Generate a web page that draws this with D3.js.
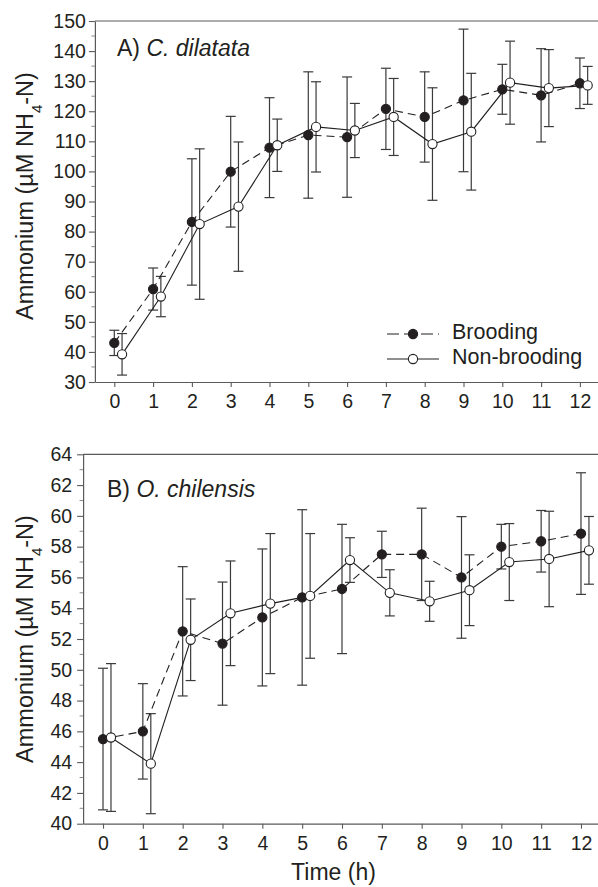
<!DOCTYPE html>
<html>
<head>
<meta charset="utf-8">
<script src="https://cdn.jsdelivr.net/npm/d3@7"></script>
<style>
  body { margin: 0; background: #fff; }
  svg { display: block; font-family: "Liberation Sans", Arial, sans-serif; }
</style>
</head>
<body>
<svg id="chart" width="598" height="887"></svg>
<script>
var hours = [0, 1, 2, 3, 4, 5, 6, 7, 8, 9, 10, 11, 12];

// panel A - C. dilatata
var aBroodMean = [43.0, 60.9, 83.2, 99.9, 107.9, 112.1, 111.4, 120.8, 118.1, 123.6, 127.3, 125.3, 129.3];
var aBroodSD   = [4.2, 7.0, 21.0, 18.4, 16.6, 21.0, 20.0, 13.5, 15.0, 23.7, 8.3, 15.5, 8.4];
var aNonMean   = [39.2, 58.4, 82.5, 88.3, 108.7, 114.8, 113.6, 118.1, 109.1, 113.2, 129.5, 127.7, 128.6];
var aNonSD     = [6.9, 6.7, 25.0, 21.5, 8.7, 15.0, 9.0, 12.8, 18.7, 19.4, 13.8, 12.8, 6.3];

// panel B - O. chilensis
var bBroodMean = [45.5, 46.0, 52.5, 51.7, 53.4, 54.7, 55.25, 57.5, 57.5, 56.0, 58.0, 58.35, 58.85];
var bBroodSD   = [4.6, 3.1, 4.2, 4.0, 4.45, 5.7, 4.2, 1.5, 3.0, 3.95, 1.45, 2.0, 3.95];
var bNonMean   = [45.6, 43.9, 51.95, 53.67, 54.3, 54.8, 57.13, 55.0, 54.45, 55.17, 57.0, 57.2, 57.76];
var bNonSD     = [4.8, 3.25, 2.65, 3.4, 4.55, 4.05, 1.45, 1.5, 1.3, 2.3, 2.5, 3.1, 2.2];

var aTicks = d3.range(30, 151, 10);
var bTicks = d3.range(40, 65, 2);

var svg = d3.select("#chart");
var ink = "#231f20", axisCol = "#5a5a5a";

function panel(opt) {
  var x = d3.scaleLinear().domain([-0.5, 12.5]).range([opt.left, opt.right]);
  var y = d3.scaleLinear().domain(opt.ydom).range([opt.bottom, opt.top]);
  var g = svg.append("g");

  // frame top line
  g.append("line").attr("x1", opt.left).attr("x2", opt.right)
    .attr("y1", opt.top).attr("y2", opt.top)
    .attr("stroke", axisCol).attr("stroke-width", 1.2);

  // minor y ticks
  var minor = d3.range(opt.ydom[0] + opt.minorStep, opt.ydom[1], opt.majorStep);
  g.selectAll(".minor").data(minor).enter().append("line")
    .attr("x1", opt.left - 3.5).attr("x2", opt.left)
    .attr("y1", function(d) { return y(d); }).attr("y2", function(d) { return y(d); })
    .attr("stroke", "#888").attr("stroke-width", 1);

  var yAxis = g.append("g").attr("transform", "translate(" + opt.left + ",0)")
    .call(d3.axisLeft(y).tickValues(opt.ticks).tickSize(6).tickPadding(opt.pad).tickSizeOuter(0));
  var xAxis = g.append("g").attr("transform", "translate(0," + opt.bottom + ")")
    .call(d3.axisBottom(x).tickValues(hours).tickSize(5).tickPadding(7).tickSizeOuter(0));
  [yAxis, xAxis].forEach(function(a) {
    a.select(".domain").attr("stroke", axisCol).attr("stroke-width", 1.2);
    a.selectAll(".tick line").attr("stroke", axisCol).attr("stroke-width", 1.1);
    a.selectAll("text").attr("fill", ink).style("font-size", "19.5px")
      .style("font-family", "'Liberation Sans', Arial, sans-serif");
  });

  // y label
  var lab = g.append("text")
    .attr("transform", "translate(33," + opt.labelY + ") rotate(-90)")
    .attr("text-anchor", "middle").attr("fill", ink).style("font-size", "23.5px");
  lab.append("tspan").text("Ammonium (\u00b5M NH");
  lab.append("tspan").attr("baseline-shift", "sub").style("font-size", "15px").text("4");
  lab.append("tspan").text("-N)");

  // panel title
  var t = g.append("text").attr("x", opt.titleX).attr("y", opt.titleY)
    .attr("fill", ink).style("font-size", "23px");
  t.append("tspan").text(opt.letter + ") ");
  t.append("tspan").style("font-style", "italic").text(opt.species);

  var series = [
    { mean: opt.brood, sd: opt.broodSD, off: 0, fill: ink, dash: "8,5" },
    { mean: opt.non, sd: opt.nonSD, off: 0.2, fill: "#fff", dash: null }
  ];

  // error bars
  series.forEach(function(s) {
    var eb = g.append("g").attr("stroke", "#3a3a3a").attr("stroke-width", 1.2);
    hours.forEach(function(h, i) {
      var cx = x(h + s.off), hi = y(s.mean[i] + s.sd[i]), lo = y(s.mean[i] - s.sd[i]);
      eb.append("line").attr("x1", cx).attr("x2", cx).attr("y1", hi).attr("y2", lo);
      eb.append("line").attr("x1", cx - 5).attr("x2", cx + 5).attr("y1", hi).attr("y2", hi);
      eb.append("line").attr("x1", cx - 5).attr("x2", cx + 5).attr("y1", lo).attr("y2", lo);
    });
  });

  // lines
  series.forEach(function(s) {
    var line = d3.line().x(function(d, i) { return x(hours[i] + s.off); }).y(function(d) { return y(d); });
    g.append("path").datum(s.mean).attr("d", line)
      .attr("fill", "none").attr("stroke", ink).attr("stroke-width", 1.1)
      .attr("stroke-dasharray", s.dash);
  });

  // markers
  series.forEach(function(s) {
    g.selectAll(null).data(s.mean).enter().append("circle")
      .attr("cx", function(d, i) { return x(hours[i] + s.off); })
      .attr("cy", function(d) { return y(d); })
      .attr("r", 4.6).attr("fill", s.fill).attr("stroke", ink).attr("stroke-width", 1.1);
  });

  return g;
}

panel({
  left: 94.9, right: 599.3, top: 21, bottom: 382, ydom: [30, 150], ticks: aTicks,
  majorStep: 10, minorStep: 5, pad: 3, labelY: 196, titleX: 117, titleY: 56,
  letter: "A", species: "C. dilatata",
  brood: aBroodMean, broodSD: aBroodSD, non: aNonMean, nonSD: aNonSD
});

panel({
  left: 83.1, right: 600.9, top: 454.3, bottom: 823.7, ydom: [40, 64], ticks: bTicks,
  majorStep: 2, minorStep: 1, pad: 5, labelY: 639, titleX: 107, titleY: 497,
  letter: "B", species: "O. chilensis",
  brood: bBroodMean, broodSD: bBroodSD, non: bNonMean, nonSD: bNonSD
});

// legend in panel A
var legend = [
  { name: "Brooding", y: 334, fill: ink, dash: "12,5" },
  { name: "Non-brooding", y: 359, fill: "#fff", dash: null }
];
var lg = svg.append("g");
legend.forEach(function(l) {
  lg.append("line").attr("x1", 387).attr("x2", 439).attr("y1", l.y).attr("y2", l.y)
    .attr("stroke", ink).attr("stroke-width", 1.1).attr("stroke-dasharray", l.dash);
  lg.append("circle").attr("cx", 413).attr("cy", l.y).attr("r", 4.6)
    .attr("fill", l.fill).attr("stroke", ink).attr("stroke-width", 1.1);
  lg.append("text").attr("x", 452).attr("y", l.y + 5).attr("fill", ink)
    .style("font-size", "21.5px").text(l.name);
});

// x label
svg.append("text").attr("x", 333.5).attr("y", 880).attr("text-anchor", "middle")
  .attr("fill", ink).style("font-size", "23px").text("Time (h)");
</script>
</body>
</html>
